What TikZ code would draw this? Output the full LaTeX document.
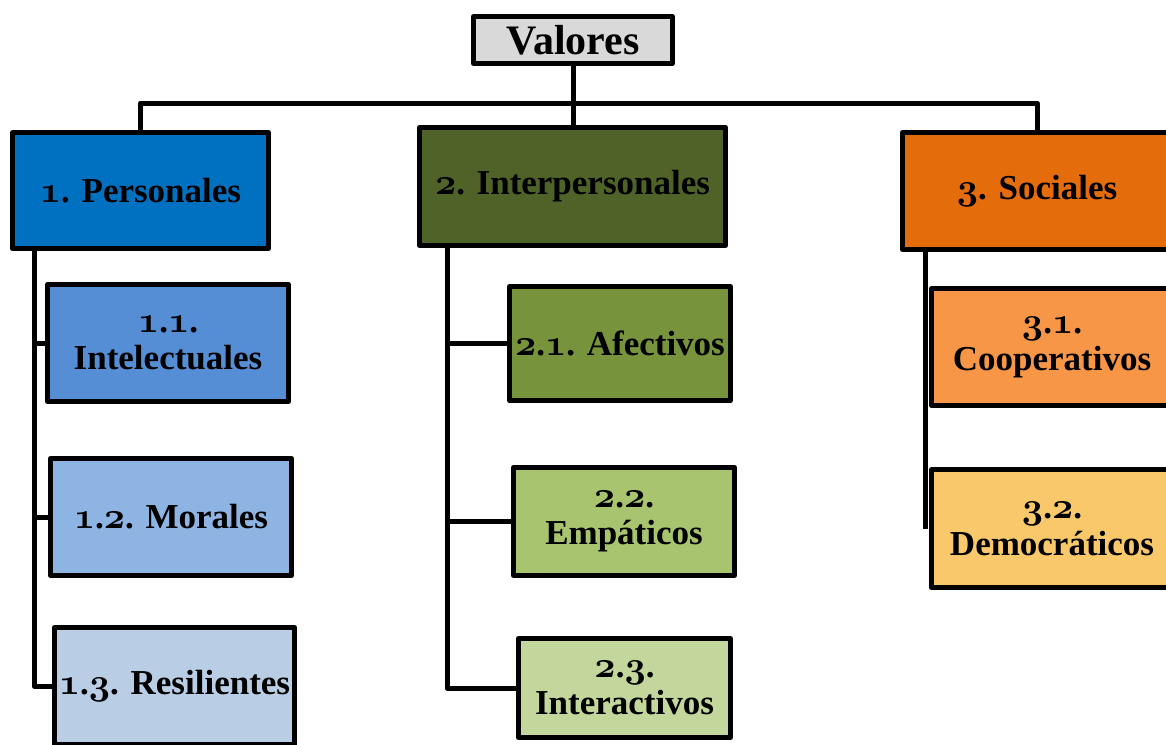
\documentclass[tikz,border=0pt]{standalone}
\usepackage{fontspec}
\setmainfont{Liberation Serif}
\DeclareFontFamily{OML}{myosn}{}
\DeclareFontShape{OML}{myosn}{b}{it}{<->cmmib10}{}
\newcommand\oldnum[1]{{\fontencoding{OML}\fontfamily{myosn}\fontseries{b}\fontshape{it}\fontsize{37}{37}\selectfont #1}}
\definecolor{cval}{HTML}{D9D9D9}
\definecolor{cpers}{HTML}{0070C0}
\definecolor{cinter}{HTML}{4F6228}
\definecolor{csoc}{HTML}{E46C0A}
\definecolor{cpa}{HTML}{558ED5}
\definecolor{cpb}{HTML}{8EB4E3}
\definecolor{cpc}{HTML}{B9CDE5}
\definecolor{cia}{HTML}{77933C}
\definecolor{cib}{HTML}{A9C46E}
\definecolor{cic}{HTML}{C3D69B}
\definecolor{csa}{HTML}{F79646}
\definecolor{csb}{HTML}{F9C86B}
\begin{document}
\begin{tikzpicture}[x=1pt,y=-1pt,
  box/.style={draw=black, line width=5pt, line join=round, rectangle, align=center, inner sep=0pt,
    font=\bfseries\fontsize{35}{37}\selectfont, text=black},
  conn/.style={draw=black, line width=5pt, line join=round}]
\useasboundingbox (0,0) rectangle (1166,744);
\clip (0,0) rectangle (1166,744);
\fill[white] (0,0) rectangle (1166,744);
\coordinate (bus) at (573,103);
% boxes
\node[box, fill=cval, minimum width=199pt, minimum height=47pt, font=\bfseries\fontsize{42}{44}\selectfont] (val) at (573,40) {Valores};
\node[box, fill=cpers, minimum width=256pt, minimum height=116pt] (pers) at (140.5,190.5) {\oldnum{1}. Personales};
\node[box, fill=cinter, minimum width=306pt, minimum height=118pt] (inter) at (572.5,186.5) {\oldnum{2}. Interpersonales};
\node[box, fill=csoc, minimum width=269pt, minimum height=117pt] (soc) at (1037,191) {\oldnum{3}. Sociales};
\coordinate (ls) at ([xshift=24pt]pers.south west);
\coordinate (ms) at ([xshift=30pt]inter.south west);
\coordinate (rs) at ([xshift=25pt]soc.south west);
\node[box, fill=cpa, minimum width=241pt, minimum height=117pt] (pa) at (168,343) {\oldnum{1}.\oldnum{1}.\\Intelectuales};
\node[box, fill=cpb, minimum width=241pt, minimum height=117pt] (pb) at (171,517) {\oldnum{1}.\oldnum{2}. Morales};
\node[box, fill=cpc, minimum width=240pt, minimum height=117pt] (pc) at (174.5,686) {\oldnum{1}.\oldnum{3}. Resilientes};
\node[box, fill=cia, minimum width=221pt, minimum height=114pt] (ia) at (620,343.5) {\oldnum{2}.\oldnum{1}. Afectivos};
\node[box, fill=cib, minimum width=221pt, minimum height=108pt] (ib) at (624,521.5) {\oldnum{2}.\oldnum{2}.\\Empáticos};
\node[box, fill=cic, minimum width=212pt, minimum height=99pt] (ic) at (624.5,688) {\oldnum{2}.\oldnum{3}.\\Interactivos};
\node[box, fill=csa, minimum width=241pt, minimum height=117pt] (sa) at (1052,347) {\oldnum{3}.\oldnum{1}.\\Cooperativos};
\node[box, fill=csb, minimum width=241pt, minimum height=118pt] (sb) at (1052,528.5) {\oldnum{3}.\oldnum{2}.\\Democráticos};
% connectors
\draw[conn] (val.south) -- (bus);
\draw[conn] (pers.north) |- (bus) -| (soc.north);
\draw[conn] (bus) -- (bus |- inter.north);
\draw[conn] (ls) |- (pc.west);
\draw[conn] (ls |- pa.west) -- (pa.west);
\draw[conn] (ls |- pb.west) -- (pb.west);
\draw[conn] (ms) |- (ic.west);
\draw[conn] (ms |- ia.west) -- (ia.west);
\draw[conn] (ms |- ib.west) -- (ib.west);
\draw[conn] (rs) -- (rs |- sb.west);
\end{tikzpicture}
\end{document}
